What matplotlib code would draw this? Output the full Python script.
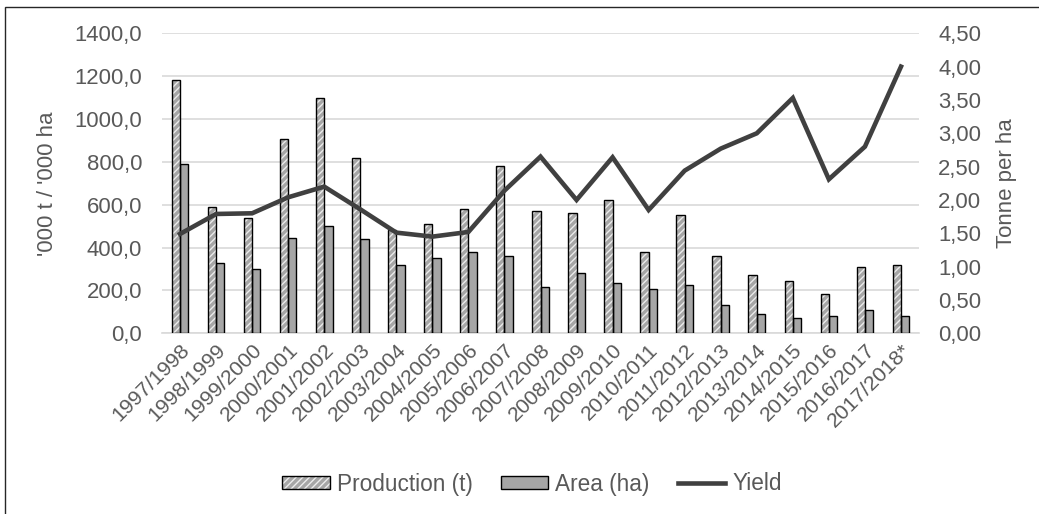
import matplotlib
matplotlib.use("Agg")
import matplotlib.pyplot as plt
from matplotlib.patches import Rectangle
from matplotlib.ticker import FuncFormatter, MultipleLocator
from matplotlib.legend_handler import HandlerTuple

seasons = ["1997/1998", "1998/1999", "1999/2000", "2000/2001", "2001/2002",
           "2002/2003", "2003/2004", "2004/2005", "2005/2006", "2006/2007",
           "2007/2008", "2008/2009", "2009/2010", "2010/2011", "2011/2012",
           "2012/2013", "2013/2014", "2014/2015", "2015/2016", "2016/2017",
           "2017/2018*"]
production = [1180, 590, 540, 905, 1100, 820, 480, 510, 580, 780,
              570, 560, 620, 380, 550, 360, 270, 245, 185, 310, 320]
area = [790, 330, 300, 445, 500, 440, 320, 350, 380, 360,
        215, 280, 235, 205, 225, 130, 90, 70, 80, 110, 80]
yield_t_ha = [1.49, 1.79, 1.80, 2.04, 2.20, 1.86, 1.51, 1.45, 1.52, 2.14,
              2.65, 2.00, 2.64, 1.85, 2.44, 2.77, 3.00, 3.53, 2.31, 2.80, 4.00]

plt.rcParams["font.family"] = ["Liberation Sans", "DejaVu Sans"]
TXT = "#595959"
FS_Y = 15.9
FS_X = 15.3

W, H = 1039, 514
fig = plt.figure(figsize=(W / 100, H / 100), dpi=100)
ax = fig.add_axes([162 / W, 1 - 333.3 / H, (919 - 162) / W, 300 / H])

x = list(range(len(seasons)))
bw = 0.23
xp = [i - bw / 2 for i in x]
xa = [i + bw / 2 for i in x]

prod_fill = ax.bar(xp, production, width=bw, color="#a6a6a6", edgecolor="#ececec",
                   hatch="/////", linewidth=0, zorder=3)
prod_edge = ax.bar(xp, production, width=bw, fill=False, edgecolor="black",
                   linewidth=1.0, zorder=4)
area_bars = ax.bar(xa, area, width=bw, color="#a6a6a6", edgecolor="black",
                   linewidth=1.0, zorder=3)

ax.set_xlim(-0.5, len(seasons) - 0.5)
ax.set_ylim(0, 1400)
ax.yaxis.set_major_locator(MultipleLocator(200))
ax.yaxis.set_major_formatter(FuncFormatter(lambda v, p: f"{v:.1f}".replace(".", ",")))
ax.grid(axis="y", color="#d9d9d9", linewidth=1.2, zorder=0)
ax.set_axisbelow(True)
for s in ["top", "right", "left"]:
    ax.spines[s].set_visible(False)
ax.spines["bottom"].set_color("#d9d9d9")
ax.spines["bottom"].set_linewidth(1.2)
ax.tick_params(axis="both", length=0, colors=TXT)
ax.tick_params(axis="y", pad=14.4, labelsize=FS_Y)
ax.set_xticks(x)
ax.set_xticklabels(seasons, rotation=45, ha="right", rotation_mode="anchor")
ax.tick_params(axis="x", pad=5, labelsize=FS_X)
ax.set_ylabel("'000 t / '000 ha", fontsize=16, color=TXT, labelpad=12)

ax2 = ax.twinx()
yield_line, = ax2.plot(x, yield_t_ha, color="#404040", linewidth=3.3,
                       solid_joinstyle="miter", zorder=5)
ax2.set_ylim(0, 4.5)
ax2.yaxis.set_major_locator(MultipleLocator(0.5))
ax2.yaxis.set_major_formatter(FuncFormatter(lambda v, p: f"{v:.2f}".replace(".", ",")))
for s in ax2.spines.values():
    s.set_visible(False)
ax2.tick_params(axis="y", length=0, colors=TXT, labelsize=FS_Y, pad=13.7)
ax2.set_ylabel("Tonne per ha", fontsize=16, color=TXT, labelpad=11)

fig.legend([(prod_fill, prod_edge), area_bars, yield_line],
           ["Production (t)", "Area (ha)", "Yield"],
           handler_map={tuple: HandlerTuple(ndivide=1)},
           loc="center", bbox_to_anchor=(532 / W, 1 - 484 / H),
           ncol=3, frameon=False, fontsize=16.3, labelcolor=TXT,
           handlelength=2.1, handleheight=0.55, handletextpad=0.3,
           columnspacing=1.25)

fig.patches.append(Rectangle((5 / W, -0.1), 1.2, 1.1 - 7 / H, transform=fig.transFigure,
                             fill=False, edgecolor="#262626", linewidth=1.0))

fig.savefig("out.png", dpi=100)
